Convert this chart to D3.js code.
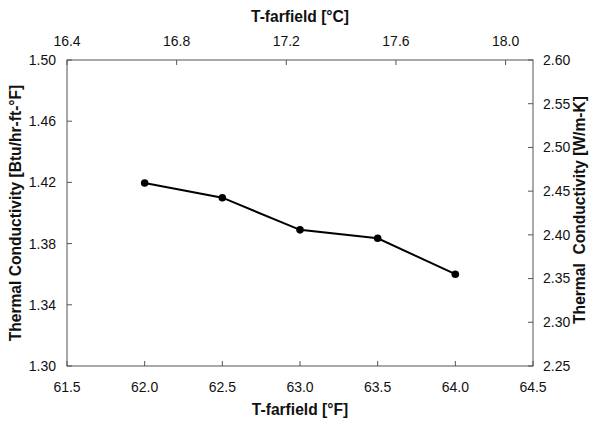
<!DOCTYPE html>
<html>
<head>
  <meta charset="utf-8" />
  <script src="https://d3js.org/d3.v7.min.js"></script>
  <style>
    body { margin: 0; padding: 0; background: #ffffff; }
    text { font-family: "Liberation Sans", Arial, sans-serif; fill: #111; }
    .tick-label { font-size: 14px; }
    .axis-title { font-size: 15.6px; font-weight: bold; }
  </style>
</head>
<body>
  <svg id="chart" width="592" height="423"></svg>
  <script>
    // data
    const tempF = [62.0, 62.5, 63.0, 63.5, 64.0];
    const conductivity = [1.4196, 1.410, 1.389, 1.3835, 1.360];

    const xTicksF = [61.5, 62.0, 62.5, 63.0, 63.5, 64.0, 64.5];
    const xTicksC = [16.4, 16.8, 17.2, 17.6, 18.0];
    const yTicksBtu = [1.30, 1.34, 1.38, 1.42, 1.46, 1.50];
    const yTicksSI = [2.25, 2.30, 2.35, 2.40, 2.45, 2.50, 2.55, 2.60];

    const svg = d3.select("#chart");
    const plot = { left: 67, right: 533, top: 60, bottom: 366 };

    const x = d3.scaleLinear().domain([61.5, 64.5]).range([plot.left, plot.right]);
    const xC = d3.scaleLinear().domain([16.4, 18.1]).range([plot.left, plot.right]);
    const y = d3.scaleLinear().domain([1.30, 1.50]).range([plot.bottom, plot.top]);
    const y2 = d3.scaleLinear().domain([2.25, 2.60]).range([plot.bottom, plot.top]);

    const tick = 5;

    // frame
    svg.append("rect")
      .attr("x", plot.left).attr("y", plot.top)
      .attr("width", plot.right - plot.left).attr("height", plot.bottom - plot.top)
      .attr("fill", "none").attr("stroke", "#555").attr("stroke-width", 1);

    // bottom axis (°F)
    const gb = svg.append("g");
    gb.selectAll("line").data(xTicksF).enter().append("line")
      .attr("x1", d => x(d)).attr("x2", d => x(d))
      .attr("y1", plot.bottom).attr("y2", plot.bottom - tick)
      .attr("stroke", "#555");
    gb.selectAll("text").data(xTicksF).enter().append("text")
      .attr("class", "tick-label")
      .attr("x", d => x(d)).attr("y", plot.bottom + 26)
      .attr("text-anchor", "middle")
      .text(d => d.toFixed(1));

    // top axis (°C)
    const gt = svg.append("g");
    gt.selectAll("line").data(xTicksC).enter().append("line")
      .attr("x1", d => xC(d)).attr("x2", d => xC(d))
      .attr("y1", plot.top).attr("y2", plot.top + tick)
      .attr("stroke", "#555");
    gt.selectAll("text").data(xTicksC).enter().append("text")
      .attr("class", "tick-label")
      .attr("x", d => xC(d)).attr("y", plot.top - 14)
      .attr("text-anchor", "middle")
      .text(d => d.toFixed(1));

    // left axis
    const gl = svg.append("g");
    gl.selectAll("line").data(yTicksBtu).enter().append("line")
      .attr("x1", plot.left).attr("x2", plot.left + tick)
      .attr("y1", d => y(d)).attr("y2", d => y(d))
      .attr("stroke", "#555");
    gl.selectAll("text").data(yTicksBtu).enter().append("text")
      .attr("class", "tick-label")
      .attr("x", plot.left - 11).attr("y", d => y(d))
      .attr("dy", "0.35em")
      .attr("text-anchor", "end")
      .text(d => d.toFixed(2));

    // right axis
    const gr = svg.append("g");
    gr.selectAll("line").data(yTicksSI).enter().append("line")
      .attr("x1", plot.right).attr("x2", plot.right - tick)
      .attr("y1", d => y2(d)).attr("y2", d => y2(d))
      .attr("stroke", "#555");
    gr.selectAll("text").data(yTicksSI).enter().append("text")
      .attr("class", "tick-label")
      .attr("x", plot.right + 10).attr("y", d => y2(d))
      .attr("dy", "0.35em")
      .attr("text-anchor", "start")
      .text(d => d.toFixed(2));

    // titles
    const midY = (plot.top + plot.bottom) / 2;
    svg.append("text").attr("class", "axis-title")
      .attr("x", 300).attr("y", 415).attr("text-anchor", "middle")
      .text("T-farfield [°F]");
    svg.append("text").attr("class", "axis-title")
      .attr("x", 300).attr("y", 22).attr("text-anchor", "middle")
      .text("T-farfield [°C]");
    svg.append("text").attr("class", "axis-title")
      .attr("transform", `translate(21,${midY}) rotate(-90)`)
      .attr("text-anchor", "middle")
      .text("Thermal Conductivity [Btu/hr-ft-°F]");
    svg.append("text").attr("class", "axis-title")
      .attr("transform", `translate(585,${midY - 3}) rotate(-90)`)
      .attr("text-anchor", "middle")
      .style("white-space", "pre")
      .text("Thermal  Conductivity [W/m-K]");

    // series
    const pts = tempF.map((t, i) => [t, conductivity[i]]);
    const line = d3.line().x(d => x(d[0])).y(d => y(d[1]));
    svg.append("path").datum(pts)
      .attr("d", line)
      .attr("fill", "none")
      .attr("stroke", "#000")
      .attr("stroke-width", 2);
    svg.selectAll(".pt").data(pts).enter().append("circle")
      .attr("class", "pt")
      .attr("cx", d => x(d[0])).attr("cy", d => y(d[1]))
      .attr("r", 3.8)
      .attr("fill", "#000");
  </script>
</body>
</html>
